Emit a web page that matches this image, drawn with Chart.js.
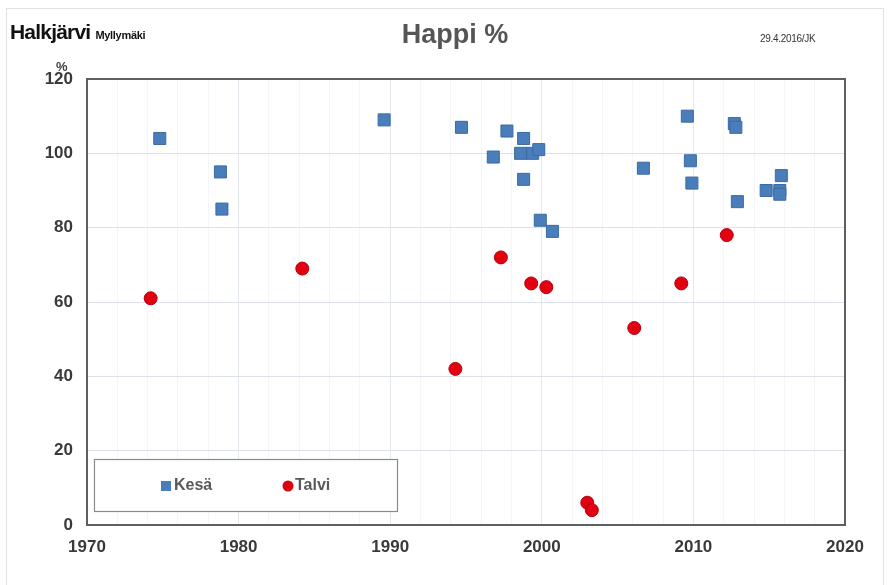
<!DOCTYPE html>
<html>
<head>
<meta charset="utf-8">
<script src="https://cdn.jsdelivr.net/npm/chart.js@4"></script>
<style>
  body { margin: 0; background: #fff; font-family: "Liberation Sans", Arial, sans-serif; }
  #wrap { position: relative; width: 889px; height: 585px; }
  #frame { position: absolute; left: 6px; top: 8px; width: 876px; height: 580px; border: 1px solid #e2e2e2; border-bottom: none; }
  .lbl { position: absolute; white-space: nowrap; }
  #site { left: 10px; top: 20px; font-size: 21px; font-weight: bold; color: #111; letter-spacing: -0.8px; }
  #site small { font-size: 11px; letter-spacing: -0.3px; }
  #title { left: 0; width: 910px; text-align: center; top: 19px; font-size: 27px; font-weight: bold; color: #555; }
  #date { left: 760px; top: 33px; font-size: 10px; color: #333; letter-spacing: -0.3px; }
  #unit { left: 56px; top: 59px; font-size: 13px; font-weight: bold; color: #404040; }
  canvas { position: absolute; left: 0; top: 0; }
</style>
</head>
<body>
<div id="wrap">
  <div id="frame"></div>
  <canvas id="chart" width="889" height="585"></canvas>
  <div class="lbl" id="site">Halkjärvi <small>Myllymäki</small></div>
  <div class="lbl" id="title">Happi %</div>
  <div class="lbl" id="date">29.4.2016/JK</div>
  <div class="lbl" id="unit">%</div>
</div>
<script>
// Kesä (summer) samples: year, oxygen %
const kesaYears = [1974.8, 1978.8, 1978.9, 1989.6, 1994.7, 1996.8, 1997.7, 1998.8, 1998.8, 1998.6, 1999.4, 1999.8, 1999.9, 2000.7, 2006.7, 2009.6, 2009.8, 2009.9, 2012.7, 2012.8, 2012.9, 2014.8, 2015.8, 2015.7, 2015.7];
const kesaValues = [104, 95, 85, 109, 107, 99, 106, 93, 104, 100, 100, 101, 82, 79, 96, 110, 98, 92, 108, 107, 87, 90, 94, 90, 89];

// Talvi (winter) samples
const talviYears = [1974.2, 1984.2, 1994.3, 1997.3, 1999.3, 2000.3, 2003.0, 2003.3, 2006.1, 2009.2, 2012.2];
const talviValues = [61, 69, 42, 72, 65, 64, 6, 4, 53, 65, 78];

const seriesNames = ['Kesä', 'Talvi'];
const yearTicks = [1970, 1980, 1990, 2000, 2010, 2020];

const toPoints = (xs, ys) => xs.map((x, i) => ({ x: x, y: ys[i] }));

const boxPlugin = {
    id: 'box',
    beforeDatasetsDraw(chart) {
        const { ctx, chartArea: a } = chart;
        ctx.save();
        ctx.strokeStyle = '#5f5f5f';
        ctx.lineWidth = 2;
        ctx.strokeRect(a.left, a.top, a.right - a.left, a.bottom - a.top);

        // legend box inside the plot
        ctx.fillStyle = '#fff';
        ctx.fillRect(94, 459, 303, 52);
        ctx.strokeStyle = '#8a8a8a';
        ctx.lineWidth = 1.2;
        ctx.strokeRect(94.5, 459.5, 303, 52);

        ctx.font = 'bold 16px "Liberation Sans", Arial, sans-serif';
        ctx.textBaseline = 'middle';
        ctx.fillStyle = '#4a7ebb';
        ctx.fillRect(161, 481, 10, 10);
        ctx.fillStyle = '#595959';
        ctx.fillText(seriesNames[0], 174, 486);

        ctx.fillStyle = '#e00010';
        ctx.beginPath();
        ctx.arc(288, 486, 5.5, 0, Math.PI * 2);
        ctx.fill();
        ctx.fillStyle = '#595959';
        ctx.fillText(seriesNames[1], 295, 486);
        ctx.restore();
    }
};

new Chart(document.getElementById('chart').getContext('2d'), {
    type: 'scatter',
    data: {
        datasets: [
            {
                label: seriesNames[0],
                data: toPoints(kesaYears, kesaValues),
                pointStyle: 'rect',
                pointRadius: 8.5,
                backgroundColor: '#4a7ebb',
                borderColor: '#3b6aa3',
                borderWidth: 1
            },
            {
                label: seriesNames[1],
                data: toPoints(talviYears, talviValues),
                pointStyle: 'circle',
                pointRadius: 6.5,
                backgroundColor: '#e30010',
                borderColor: '#b3000c',
                borderWidth: 1
            }
        ]
    },
    options: {
        responsive: false,
        animation: false,
        layout: { padding: { top: 79, right: 44, left: 0, bottom: 0 } },
        plugins: {
            legend: { display: false },
            tooltip: { enabled: false }
        },
        scales: {
            x: {
                type: 'linear',
                min: yearTicks[0],
                max: yearTicks[yearTicks.length - 1],
                afterFit: s => { s.height = 60; },
                ticks: {
                    stepSize: 2,
                    autoSkip: false,
                    maxRotation: 0,
                    padding: 12,
                    color: '#3a3a3a',
                    font: { family: '"Liberation Sans", Arial, sans-serif', size: 17, weight: 'bold' },
                    callback: v => yearTicks.includes(v) ? v : ''
                },
                grid: {
                    drawTicks: false,
                    color: c => (c.tick && yearTicks.includes(c.tick.value)) ? '#e3e7ee' : '#f3f5f8'
                },
                border: { display: false }
            },
            y: {
                min: 0,
                max: 120,
                afterFit: s => { s.width = 87; },
                ticks: {
                    stepSize: 20,
                    padding: 14,
                    color: '#3a3a3a',
                    font: { family: '"Liberation Sans", Arial, sans-serif', size: 17, weight: 'bold' }
                },
                grid: { drawTicks: false, color: '#dde2ea' },
                border: { display: false }
            }
        }
    },
    plugins: [boxPlugin]
});
</script>
</body>
</html>
